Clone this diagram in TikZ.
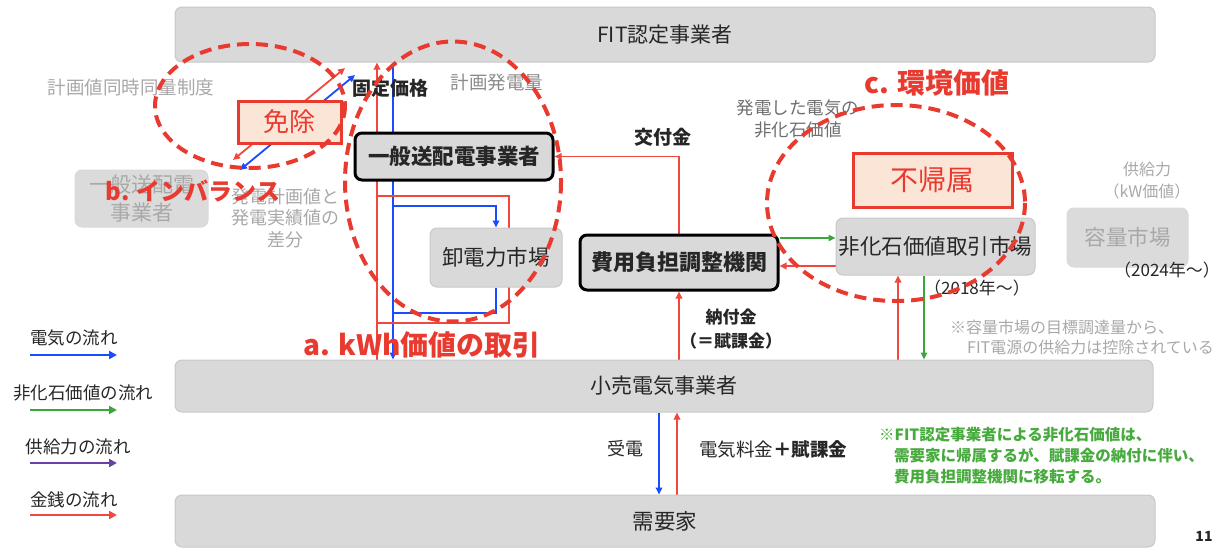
\documentclass[tikz,border=0pt]{standalone}
\usepackage{fontspec}
\setmainfont{Noto Sans CJK JP}
\usetikzlibrary{arrows.meta}
\definecolor{myred}{RGB}{233,58,48}
\definecolor{linered}{RGB}{240,72,62}
\definecolor{myblue}{RGB}{25,75,255}
\definecolor{mygreen}{RGB}{60,165,60}
\definecolor{mypurple}{RGB}{105,65,165}
\definecolor{boxgray}{RGB}{217,217,217}
\definecolor{boxedge}{RGB}{200,200,200}
\definecolor{fadetext}{RGB}{168,168,168}
\definecolor{midgray}{RGB}{110,110,110}
\definecolor{darktext}{RGB}{38,38,38}
\definecolor{peach}{RGB}{251,229,214}
\definecolor{notegreen}{RGB}{70,170,60}
\newcommand\fsz[2]{\fontsize{#1}{#2}\selectfont}
\pgfdeclarelayer{bg}\pgfdeclarelayer{fg}\pgfsetlayers{bg,main,fg}
\begin{document}
\begin{tikzpicture}[x=1pt,y=-1pt,
  every node/.style={text=darktext},
  graybox/.style={draw=boxedge, line width=1pt, fill=boxgray, rounded corners=7pt, inner sep=0pt, text=darktext},
  boldbox/.style={draw=black, line width=3pt, fill=boxgray, rounded corners=7pt, inner sep=0pt, text=darktext, font=\fsz{21.5}{25}\bfseries},
  fadebox/.style={draw=boxedge!70, line width=1pt, fill=boxgray!95, rounded corners=7pt, inner sep=0pt, text=fadetext},
  redbox/.style={draw=myred, line width=3pt, fill=peach, text=myred, inner sep=0pt},
  flow/.style={line width=1.8pt, -{Triangle[length=7pt,width=6.5pt]}},
  dflow/.style={line width=1.8pt, {Triangle[length=7pt,width=6.5pt]}-{Triangle[length=7pt,width=6.5pt]}},
  legarrow/.style={line width=2.6pt, -{Triangle[length=8pt,width=8pt]}},
  ell/.style={draw=myred, line width=4pt, dash pattern=on 12pt off 7pt},
  lbl/.style={font=\fsz{18.5}{22}},
  lgtext/.style={font=\fsz{17.5}{20}, text=darktext}
]
\useasboundingbox (0,0) rectangle (1223,547);

% ---------- main boxes ----------
\node[graybox, minimum width=980pt, minimum height=55pt, font=\fsz{21}{25}] (fit) at (665,34.5) {FIT認定事業者};
\node[graybox, minimum width=978pt, minimum height=52pt, font=\fsz{21}{25}] (kouri) at (664,386) {小売電気事業者};
\node[graybox, minimum width=980pt, minimum height=52pt, font=\fsz{21.5}{25}] (juyou) at (665,521) {需要家};
\node[boldbox, minimum width=198pt, minimum height=47pt] (ippan) at (454,156.5) {一般送配電事業者};
\node[graybox, minimum width=132pt, minimum height=59pt, font=\fsz{21.5}{25}] (oroshi) at (496,257.5) {卸電力市場};
\node[boldbox, minimum width=198pt, minimum height=55pt, font=\fsz{22}{25}\bfseries] (hiyou) at (679,262.5) {費用負担調整機関};
\node[graybox, minimum width=199pt, minimum height=57pt, font=\fsz{21.5}{25}] (hika) at (935.5,246.5) {非化石価値取引市場};
\node[fadebox, minimum width=121pt, minimum height=59pt, font=\fsz{21.5}{25}] (youryou) at (1127.5,237.5) {容量市場};
\node[fadebox, minimum width=133pt, minimum height=57pt, align=center, font=\fsz{21}{28}] (ippan2) at (141.5,198.5) {一般送配電\\事業者};

% ---------- connectors ----------
\coordinate (xr) at (377,0);
\coordinate (xb) at (393,0);
\coordinate (rtl) at (377,196);
\coordinate (rbr) at (509,323);
\coordinate (rbl) at (377,323);
\coordinate (btl) at (393,206);
\coordinate (bbl) at (393,313);
\coordinate (yg) at (0,238);
\coordinate (yr) at (0,266);
\coordinate (xh1) at (898,0);
\coordinate (xh2) at (924,0);
\coordinate (xj1) at (659,0);
\coordinate (xj2) at (677,0);
\coordinate (dr1) at (233,160);
\coordinate (dr2) at (345,68);
\coordinate (db1) at (240,170);
\coordinate (db2) at (355,75);
\begin{pgfonlayer}{bg}
\draw[flow, linered] (kouri.north -| xr) -- (fit.south -| xr);
\draw[flow, myblue, line width=2.2pt] (fit.south -| xb) -- (kouri.north -| xb);
\draw[linered, line width=1.8pt] (rtl) -| (rbr) -- (rbl);
\draw[flow, myblue, line width=2.2pt] (btl) -| (oroshi.north);
\draw[myblue, line width=2.2pt] (oroshi.south) |- (bbl);
\draw[flow, linered] (hiyou.north) |- (ippan.east);
\draw[flow, linered] (kouri.north -| hiyou.north) -- (hiyou.south);
\draw[flow, mygreen, line width=1.5pt] (hiyou.east |- yg) -- (hika.west |- yg);
\draw[flow, linered] (hika.west |- yr) -- (hiyou.east |- yr);
\draw[flow, linered] (kouri.north -| xh1) -- (hika.south -| xh1);
\draw[flow, mygreen, line width=1.5pt] (hika.south -| xh2) -- (kouri.north -| xh2);
\draw[flow, myblue, line width=2.2pt] (kouri.south -| xj1) -- (juyou.north -| xj1);
\draw[flow, linered] (juyou.north -| xj2) -- (kouri.south -| xj2);
\draw[dflow, linered] (dr1) -- (dr2);
\draw[dflow, myblue] (db1) -- (db2);
\end{pgfonlayer}

% ---------- red boxes ----------
\node[redbox, minimum width=103pt, minimum height=42pt, font=\fsz{26}{30}] (menjo) at (289.5,122) {免除};
\node[redbox, minimum width=159pt, minimum height=54pt, font=\fsz{28}{32}] (fuki) at (932.5,180) {不帰属};

% ---------- labels ----------
\node[lbl, text=fadetext] (lkeikaku) at (131,87) {計画値同時同量制度};
\node[font=\fsz{19}{23}\bfseries] (lkotei) at (390,88) {固定価格};
\node[lbl, text=midgray!80] (lhatsu) at (497,83) {計画発電量};
\node[font=\fsz{19}{23}\bfseries] (lkofu) at (663,137) {交付金};
\node[align=center, font=\fsz{17.5}{22}, text=midgray] (lhika) at (798,119) {発電した電気の\\非化石価値};
\node[font=\fsz{28}{32}\bfseries, text=myred] (lc) at (937,83) {c. 環境価値};
\node[align=center, font=\fsz{16}{22}, text=fadetext] (lkyou) at (1147,181) {供給力\\（kW価値）};
\node[font=\fsz{17}{20}] (l2024) at (1167,270) {（2024年～）};
\node[font=\fsz{17}{20}] (l2018) at (977,288) {（2018年～）};
\node[anchor=west, align=left, font=\fsz{16}{20}, text=fadetext, inner sep=0pt] (lnote1) at (950,337) {※容量市場の目標調達量から、\\\hspace*{17pt}FIT電源の供給力は控除されている};
\node[font=\fsz{18}{21.5}, align=center, text=fadetext] (lsabun) at (285,218) {発電計画値と\\発電実績値の\\差分};
\node[font=\fsz{24}{28}\bfseries, text=myred] (lb) at (193,191) {b. インバランス};
\node[font=\fsz{28}{32}\bfseries, text=myred] (la) at (422,345) {a. kWh価値の取引};
\node[align=center, font=\fsz{17}{24}\bfseries] (lnofu) at (731,329) {納付金\\（＝賦課金）};
\node[font=\fsz{18}{21}] (ljuden) at (625,449) {受電};
\node[font=\fsz{18.5}{21}] (lryokin) at (773,449) {電気料金{\bfseries ＋賦課金}};
\node[anchor=west, align=left, font=\fsz{15.5}{21}\bfseries, text=notegreen, inner sep=0pt] (lnote2) at (879,456) {※FIT認定事業者による非化石価値は、\\\hspace*{15pt}需要家に帰属するが、賦課金の納付に伴い、\\\hspace*{15pt}費用負担調整機関に移転する。};
\node[font=\fsz{14}{16}\bfseries] (lpage) at (1204,536) {11};

% ---------- legend ----------
\node[lgtext] (lg1) at (74,338) {電気の流れ};
\node[lgtext] (lg2) at (83,393) {非化石価値の流れ};
\node[lgtext] (lg3) at (78,447) {供給力の流れ};
\node[lgtext] (lg4) at (74,500) {金銭の流れ};
\coordinate (lg1a) at (30,355); \coordinate (lg1b) at (117,355);
\coordinate (lg2a) at (30,410); \coordinate (lg2b) at (117,410);
\coordinate (lg3a) at (30,463); \coordinate (lg3b) at (117,463);
\coordinate (lg4a) at (30,515); \coordinate (lg4b) at (117,515);
\draw[legarrow, myblue] (lg1a) -- (lg1b);
\draw[legarrow, mygreen] (lg2a) -- (lg2b);
\draw[legarrow, mypurple] (lg3a) -- (lg3b);
\draw[legarrow, linered] (lg4a) -- (lg4b);

% ---------- dashed ellipses ----------
\begin{pgfonlayer}{fg}
\draw[ell] (250,106) ellipse [x radius=95, y radius=62];
\draw[ell] (453,181.5) ellipse [x radius=108, y radius=140];
\draw[ell] (896,203) ellipse [x radius=129, y radius=98];
\end{pgfonlayer}
\end{tikzpicture}
\end{document}
